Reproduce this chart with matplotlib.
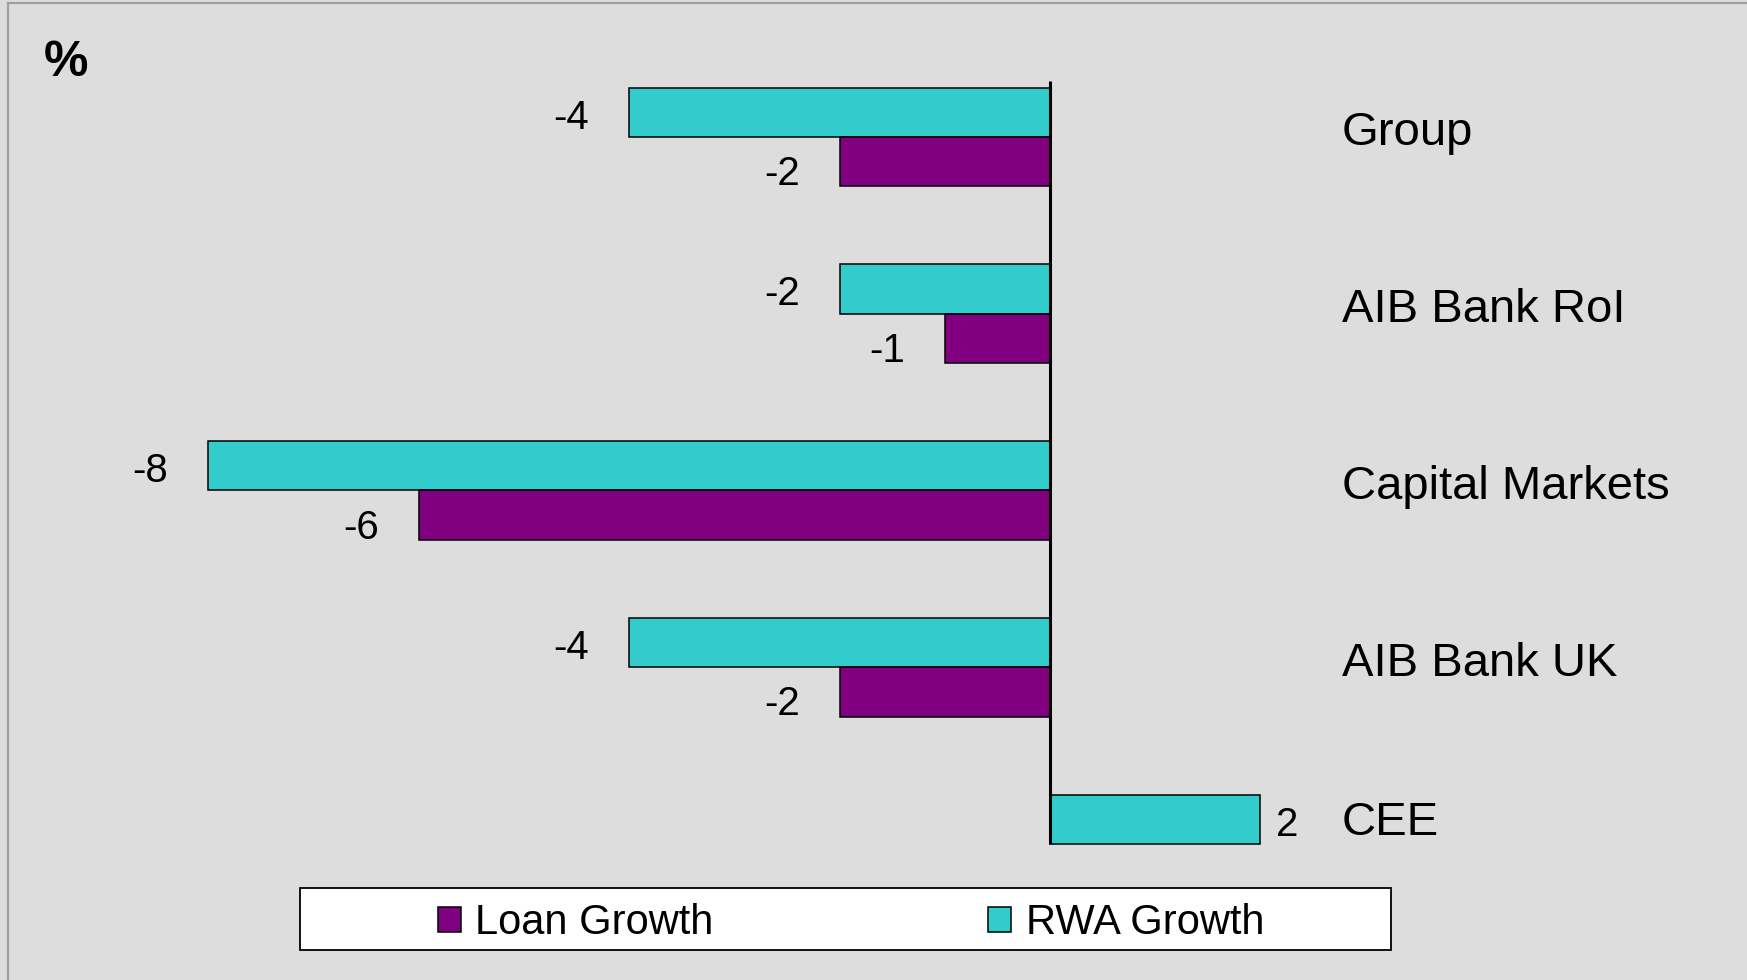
import numpy as np
import matplotlib
matplotlib.use("Agg")
import matplotlib.pyplot as plt
from matplotlib.lines import Line2D
from matplotlib.patches import Rectangle

categories = ["Group", "AIB Bank RoI", "Capital Markets", "AIB Bank UK", "CEE"]
rwa_growth = [-4, -2, -8, -4, 2]
loan_growth = [-2, -1, -6, -2, np.nan]   # no loan bar for CEE

TEAL = "#33CCCC"
PURPLE = "#800080"
BG = "#DDDDDD"

plt.rcParams["font.family"] = ["Liberation Sans", "DejaVu Sans"]

W, H = 1747, 980
fig = plt.figure(figsize=(W / 100, H / 100), dpi=100, facecolor=BG)
ax = fig.add_axes([0, 0, 1, 1])
ax.set_facecolor("none")
ax.axis("off")

# map data to pixels: zero at x=1050, 105.2 px per unit; category step 176.75 px
px_unit = 105.2
ax.set_xlim(-1050 / px_unit, (W - 1050) / px_unit)
step = 176.75
ax.set_ylim((H - 137) / step, -137 / step)

y = np.arange(len(categories))
h = 0.28
ax.barh(y - h / 2, rwa_growth, height=h, color=TEAL, edgecolor="black",
        linewidth=1.1, label="RWA Growth")
ax.barh(y + h / 2, loan_growth, height=h, color=PURPLE, edgecolor="black",
        linewidth=1.1, label="Loan Growth")

# zero axis
ax.plot([0, 0], [-0.317, y[-1]], color="black", linewidth=2.2, solid_capstyle="butt")

# value labels
def add_labels(vals, yy, dy):
    for v, yc in zip(vals, yy):
        if np.isnan(v):
            continue
        if v < 0:
            ax.text(v - 0.38, yc + dy, f"{v:g}", ha="right", va="center", fontsize=29)
        else:
            ax.text(v + 0.15, yc + dy, f"{v:g}", ha="left", va="center", fontsize=29)

add_labels(rwa_growth, y - h / 2, 0.03)
add_labels(loan_growth, y + h / 2, 0.07)

# category names on the right
for name, yc, lv in zip(categories, y, loan_growth):
    ty = yc - h / 2 + 0.02 if np.isnan(lv) else yc - 0.02
    ax.text(2.776, ty, name, ha="left", va="center", fontsize=34)

fig.text(44 / W, 1 - 40 / H, "%", fontsize=36, fontweight="bold", ha="left", va="top")

# legend box
fig.add_artist(Rectangle((300 / W, (H - 950) / H), 1091 / W, 62 / H,
                         transform=fig.transFigure, facecolor="white",
                         edgecolor="black", linewidth=1.3, zorder=1))
handles, labels = ax.get_legend_handles_labels()
leg = fig.legend(handles[::-1], labels[::-1], loc="center", ncol=2,
                 bbox_to_anchor=(851 / W, 1 - 923 / H), frameon=False,
                 fontsize=30, handlelength=0.55, handleheight=0.55,
                 handletextpad=0.34, columnspacing=6.6, borderpad=0)
leg.set_zorder(2)

# outer frame (top and left only visible)
fig.add_artist(Line2D([8 / W, 8 / W], [0, 1 - 3 / H], transform=fig.transFigure,
                      color="#A0A0A0", linewidth=1.6))
fig.add_artist(Line2D([8 / W, 1], [1 - 3 / H, 1 - 3 / H], transform=fig.transFigure,
                      color="#A0A0A0", linewidth=1.6))

fig.savefig("out.png", dpi=100, facecolor=BG)
